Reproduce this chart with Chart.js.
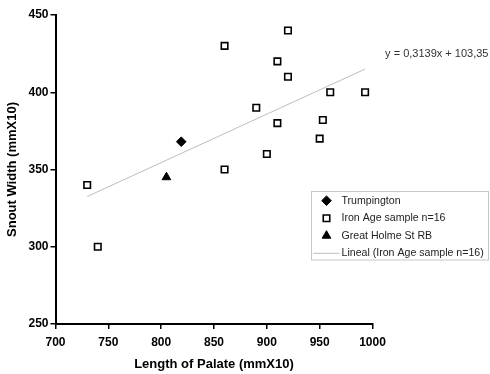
<!DOCTYPE html>
<html><head><meta charset="utf-8">
<script src="https://cdn.jsdelivr.net/npm/chart.js@4.4.1/dist/chart.umd.min.js"></script>
<style>html,body{margin:0;padding:0;background:#fff}canvas{display:block}</style>
</head><body>
<canvas id="c" width="490" height="374"></canvas>
<script>
// ---- data ----
const trumpingtonX = [819];
const trumpingtonY = [368];
const ironAgeX = [730, 740, 860, 860, 890, 900, 910, 910, 920, 920, 950, 953, 960, 993];
const ironAgeY = [340, 300, 430, 350, 390, 360, 420, 380, 440, 410, 370, 382, 400, 400];
const greatHolmeX = [805];
const greatHolmeY = [345];
const trendX = [730, 993];
const trendY = [332.5, 415.0];
const xTicks = [700, 750, 800, 850, 900, 950, 1000];
const yTicks = [250, 300, 350, 400, 450];
const seriesNames = ['Trumpington', 'Iron Age sample n=16', 'Great Holme St RB', 'Lineal (Iron Age sample n=16)'];
const equationLabel = 'y = 0,3139x + 103,35';
const xTitle = 'Length of Palate (mmX10)';
const yTitle = 'Snout Width (mmX10)';

const pts = (xs, ys) => xs.map((x, i) => ({x: x, y: ys[i]}));
const FONT = '"Liberation Sans", Arial, Helvetica, sans-serif';

const styles = [
  {pointStyle: 'rectRot', radius: 4.8, bg: '#000', border: '#000', bw: 1},
  {pointStyle: 'rect', radius: 4.6, bg: '#fff', border: '#000', bw: 1.6},
  {pointStyle: 'triangle', radius: 5, bg: '#000', border: '#000', bw: 1},
];

const overlay = {
  id: 'overlay',
  afterDraw(chart) {
    const ctx = chart.ctx;
    const xs = chart.scales.x, ys = chart.scales.y;
    ctx.save();
    // equation label
    const ex = xs.getPixelForValue(trendX[1]) + 20;
    const ey = ys.getPixelForValue(trendY[1]) - 15;
    ctx.font = '11px ' + FONT;
    ctx.fillStyle = '#333';
    ctx.textAlign = 'left';
    ctx.textBaseline = 'middle';
    ctx.fillText(equationLabel, ex, ey);
    // legend box
    const ca = chart.chartArea;
    const lx = ca.right - 61, ly = ca.top + 176.5, lw = 177, lh = 68.5;
    ctx.strokeStyle = '#c8c8c8';
    ctx.lineWidth = 1;
    ctx.fillStyle = '#fff';
    ctx.fillRect(lx, ly, lw, lh);
    ctx.strokeRect(lx, ly, lw, lh);
    const rowY = [9.2, 26.8, 44.2, 61.8];
    for (let i = 0; i < 4; i++) {
      const cy = ly + rowY[i];
      const mx = lx + 15;
      if (i < 3) {
        const s = styles[i];
        ctx.fillStyle = s.bg;
        ctx.strokeStyle = s.border;
        ctx.lineWidth = s.bw;
        Chart.helpers.drawPoint(ctx, {pointStyle: s.pointStyle, rotation: 0, borderWidth: s.bw, radius: s.radius}, mx, cy);
      } else {
        ctx.strokeStyle = '#bdbdbd';
        ctx.lineWidth = 1;
        ctx.beginPath();
        ctx.moveTo(lx + 2, cy);
        ctx.lineTo(lx + 28, cy);
        ctx.stroke();
      }
      ctx.fillStyle = '#222';
      ctx.font = '10.6px ' + FONT;
      ctx.textAlign = 'left';
      ctx.textBaseline = 'middle';
      ctx.fillText(seriesNames[i], lx + 30, cy);
    }
    ctx.restore();
  }
};

new Chart(document.getElementById('c'), {
  type: 'scatter',
  data: {
    datasets: [
      {label: seriesNames[0], data: pts(trumpingtonX, trumpingtonY), pointStyle: styles[0].pointStyle,
       pointRadius: styles[0].radius, backgroundColor: styles[0].bg, borderColor: styles[0].border, borderWidth: styles[0].bw},
      {label: seriesNames[1], data: pts(ironAgeX, ironAgeY), pointStyle: styles[1].pointStyle,
       pointRadius: styles[1].radius, backgroundColor: styles[1].bg, borderColor: styles[1].border, borderWidth: styles[1].bw},
      {label: seriesNames[2], data: pts(greatHolmeX, greatHolmeY), pointStyle: styles[2].pointStyle,
       pointRadius: styles[2].radius, backgroundColor: styles[2].bg, borderColor: styles[2].border, borderWidth: styles[2].bw},
      {label: seriesNames[3], data: pts(trendX, trendY), type: 'line', showLine: true, pointRadius: 0,
       borderColor: '#bdbdbd', borderWidth: 1, fill: false, order: 10}
    ]
  },
  options: {
    responsive: false,
    animation: false,
    events: [],
    layout: {padding: {left: 5, right: 117.5, top: 15, bottom: 1.5}},
    plugins: {legend: {display: false}, tooltip: {enabled: false}},
    scales: {
      x: {
        type: 'linear', min: xTicks[0], max: xTicks[xTicks.length - 1],
        afterBuildTicks: s => { s.ticks = xTicks.map(v => ({value: v})); },
        afterFit: s => { s.height = 48.5; },
        grid: {drawOnChartArea: false, drawTicks: true, tickLength: 5, color: '#000', lineWidth: 1.5},
        border: {display: true, color: '#000', width: 2},
        ticks: {color: '#000', font: {family: FONT, size: 12, weight: 'bold'}, padding: 6, maxRotation: 0,
                callback: v => String(v)},
        title: {display: true, text: xTitle, color: '#000', font: {family: FONT, size: 13, weight: 'bold'}, padding: 0}
      },
      y: {
        type: 'linear', min: yTicks[0], max: yTicks[yTicks.length - 1],
        afterBuildTicks: s => { s.ticks = yTicks.map(v => ({value: v})); },
        afterFit: s => { s.width = 50.5; },
        grid: {drawOnChartArea: false, drawTicks: true, tickLength: 5, color: '#000', lineWidth: 1.5},
        border: {display: true, color: '#000', width: 2},
        ticks: {color: '#000', font: {family: FONT, size: 12, weight: 'bold'}, padding: 2, callback: v => String(v)},
        title: {display: true, text: yTitle, color: '#000', font: {family: FONT, size: 13, weight: 'bold'}, padding: 0}
      }
    }
  },
  plugins: [overlay]
});
</script>
</body></html>
